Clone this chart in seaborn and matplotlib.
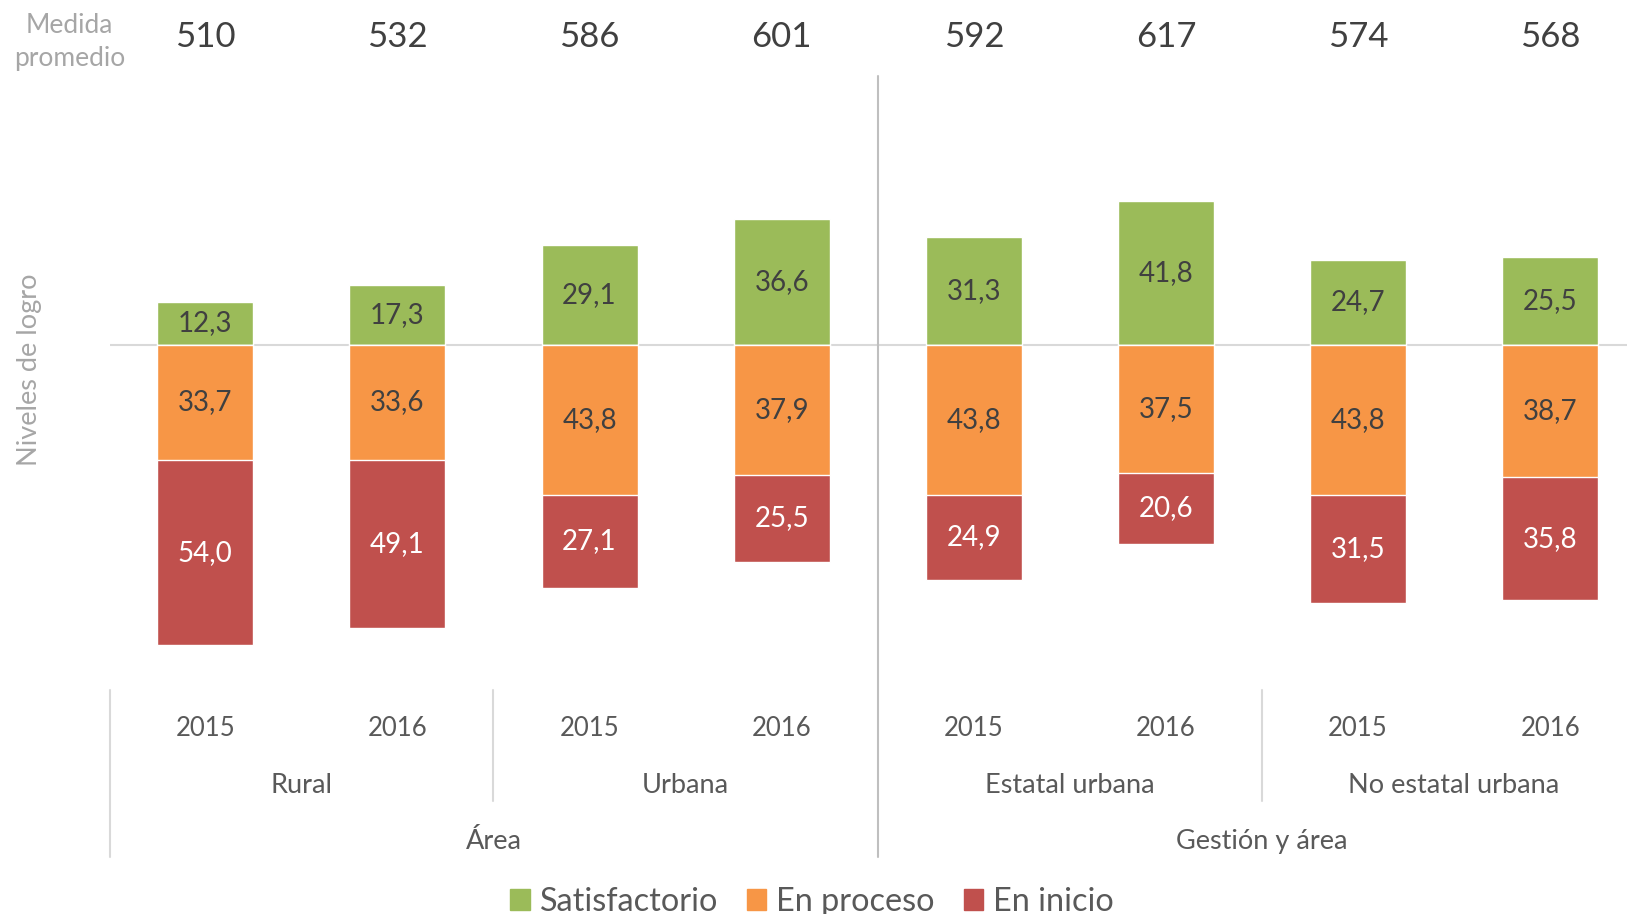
import matplotlib.pyplot as plt
import pandas as pd
import seaborn as sns
from matplotlib.patches import Patch

# datos del gráfico
GRUPOS = ["Rural", "Rural", "Urbana", "Urbana", "Estatal urbana", "Estatal urbana", "No estatal urbana", "No estatal urbana"]
ANIOS = ["2015", "2016", "2015", "2016", "2015", "2016", "2015", "2016"]
SATISFACTORIO = [12.3, 17.3, 29.1, 36.6, 31.3, 41.8, 24.7, 25.5]
EN_PROCESO = [33.7, 33.6, 43.8, 37.9, 43.8, 37.5, 43.8, 38.7]
EN_INICIO = [54.0, 49.1, 27.1, 25.5, 24.9, 20.6, 31.5, 35.8]
MEDIDA = [510, 532, 586, 601, 592, 617, 574, 568]
SUBGRUPOS = ["Rural", "Urbana", "Estatal urbana", "No estatal urbana"]
SUPERGRUPOS = ["Área", "Gestión y área"]

VERDE = "#9BBB59"
NARANJA = "#F79646"
ROJO = "#C0504D"
TEXTO = "#404040"
GRIS = "#A6A6A6"


def fmt(v: float) -> str:
    return f"{v:.1f}".replace(".", ",")


def main() -> None:
    sns.set_theme(style="white")
    plt.rcParams["font.family"] = ["Lato", "DejaVu Sans"]

    df = pd.DataFrame({
        "cat": [f"{g} {a}" for g, a in zip(GRUPOS, ANIOS)],
        "sat": SATISFACTORIO,
        "proc": EN_PROCESO,
        "ini": EN_INICIO,
    })
    df["proc_neg"] = -df["proc"]
    df["total_neg"] = -(df["proc"] + df["ini"])

    fig = plt.figure(figsize=(16.27, 9.14), dpi=100)
    ax = fig.add_axes([110 / 1627, 1 - 690 / 914, 1 - 110 / 1627, 614 / 914])

    sns.barplot(data=df, x="cat", y="sat", color=VERDE, saturation=1, width=0.5, ax=ax)
    sns.barplot(data=df, x="cat", y="total_neg", color=ROJO, saturation=1, width=0.5, ax=ax)
    sns.barplot(data=df, x="cat", y="proc_neg", color=NARANJA, saturation=1, width=0.5, ax=ax)

    ax.set_xlim(-0.496, 7.4)
    ax.set_ylim(-100.7, 78.3)
    ax.axhline(0, color="#D9D9D9", lw=1.5, zorder=0.5)
    for s in ax.spines.values():
        s.set_visible(False)
    ax.set_yticks([])
    ax.set_xlabel("")
    ax.set_ylabel("")
    ax.set_xticks(range(len(ANIOS)), ANIOS)
    ax.tick_params(axis="x", length=0, pad=19, labelsize=18.5, labelcolor="#595959")

    # etiquetas de valores
    for i in range(len(SATISFACTORIO)):
        ax.text(i, SATISFACTORIO[i] / 2, fmt(SATISFACTORIO[i]), ha="center", va="center", fontsize=20, color=TEXTO)
        ax.text(i, -EN_PROCESO[i] / 2, fmt(EN_PROCESO[i]), ha="center", va="center", fontsize=20, color=TEXTO)
        ax.text(i, -EN_PROCESO[i] - EN_INICIO[i] / 2, fmt(EN_INICIO[i]), ha="center", va="center", fontsize=20, color="white")
        ax.text(i, 1.063, str(MEDIDA[i]), transform=ax.get_xaxis_transform(), ha="center", va="center",
                fontsize=25, color=TEXTO)

    tr = ax.get_xaxis_transform()
    # separador central
    ax.plot([3.5, 3.5], [1.0, -0.272], transform=tr, color="#BFBFBF", lw=1.5, clip_on=False)
    ax.plot([-0.496, -0.496], [0.0, -0.272], transform=tr, color="#D9D9D9", lw=1.5, clip_on=False)
    for x in [1.5, 5.5]:
        ax.plot([x, x], [0.0, -0.181], transform=tr, color="#D9D9D9", lw=1.5, clip_on=False)

    for k, name in enumerate(SUBGRUPOS):
        ax.text(2 * k + 0.5, -0.155, name, transform=tr, ha="center", va="center", fontsize=19.5, color="#595959")
    for k, name in enumerate(SUPERGRUPOS):
        ax.text(4 * k + 1.5, -0.247, name, transform=tr, ha="center", va="center", fontsize=19.5, color="#595959")

    fig.text(69.5 / 1627, 1 - 42 / 914, "Medida\npromedio", ha="center", va="center", fontsize=19,
             color=GRIS, linespacing=1.4)
    fig.text(29 / 1627, 1 - 370 / 914, "Niveles de logro", ha="center", va="center", rotation=90,
             fontsize=19.5, color=GRIS)

    handles = [Patch(color=VERDE, label="Satisfactorio"),
               Patch(color=NARANJA, label="En proceso"),
               Patch(color=ROJO, label="En inicio")]
    leg = fig.legend(handles=handles, loc="center", bbox_to_anchor=(812 / 1627, 1 - 902 / 914), ncol=3,
                     frameon=False, fontsize=23.3, handlelength=0.6, handleheight=0.6, handletextpad=0.3,
                     columnspacing=0.9)
    for t in leg.get_texts():
        t.set_color("#595959")

    fig.savefig("out.png", dpi=100)
    plt.close(fig)


if __name__ == "__main__":
    main()
